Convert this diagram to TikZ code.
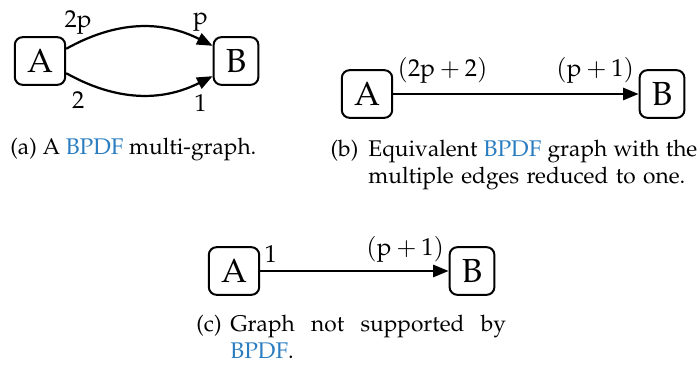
\documentclass[tikz,border=0pt]{standalone}
\usepackage[T1]{fontenc}
\usepackage{mathpazo}
\usetikzlibrary{arrows.meta}
\definecolor{linkblue}{HTML}{2A7DC0}
\newcommand{\pp}{\mathrm{p}}

\begin{document}
\begin{tikzpicture}[x=0.45pt, y=0.45pt,
  vtx/.style={draw, line width=0.9pt, rounded corners=3.5pt, inner sep=5.5pt, font=\fontsize{15}{18}\selectfont},
  arr/.style={-{Triangle[length=7pt,width=5.5pt]}, line width=1pt},
  lbl/.style={font=\fontsize{11}{13}\selectfont, inner xsep=1.5pt, inner ysep=3.3pt},
  captxt/.style={font=\fontsize{10.2}{12}\selectfont, inner sep=0pt}]
  \useasboundingbox (0,0) rectangle (700,367);
  % (a) multi-graph
  \node[vtx] (a1) at (40,306) {A};
  \node[vtx] (b1) at (236,306) {B};
  \draw[arr] (a1.25) to[bend left=28]
    node[lbl, pos=0.08, above] {$2\pp$} node[lbl, pos=0.92, above] {$\pp$} (b1.147);
  \draw[arr] (a1.-25) to[bend right=28]
    node[lbl, pos=0.08, below, yshift=-2pt] {$2$} node[lbl, pos=0.92, below, yshift=-2pt] {$1$} (b1.-147);
  \node[captxt, anchor=base west] (capa) at (10,212)
    {(a) A \textcolor{linkblue}{BPDF} multi-graph.};
  % (b) reduced graph
  \node[vtx] (a2) at (367,273) {A};
  \node[vtx] (b2) at (662,273) {B};
  \draw[arr] (a2) -- node[lbl, pos=0, above right, yshift=1pt] {$(2\pp+2)$}
    node[lbl, pos=1, above left, yshift=1pt] {$(\pp+1)$} (b2);
  \node[captxt, anchor=base west, text width=148pt, align=left] (capb) at (368,210)
    {\llap{\makebox[17pt][l]{(b)}}\makebox[148pt][s]{\spaceskip=0pt Equivalent \textcolor{linkblue}{BPDF} graph with the}\\
     multiple edges reduced to one.};
  % (c) unsupported graph
  \node[vtx] (a3) at (234,96) {A};
  \node[vtx] (b3) at (472,96) {B};
  \draw[arr] (a3) -- node[lbl, pos=0, above right] {$1$}
    node[lbl, pos=1, above left] {$(\pp+1)$} (b3);
  \node[captxt, anchor=base west, text width=124pt, align=left] (capc) at (230,35)
    {\llap{\makebox[15.3pt][l]{(c)}}\makebox[124pt][s]{\spaceskip=0pt Graph not supported by}\\
     \textcolor{linkblue}{BPDF}.};
\end{tikzpicture}
\end{document}
